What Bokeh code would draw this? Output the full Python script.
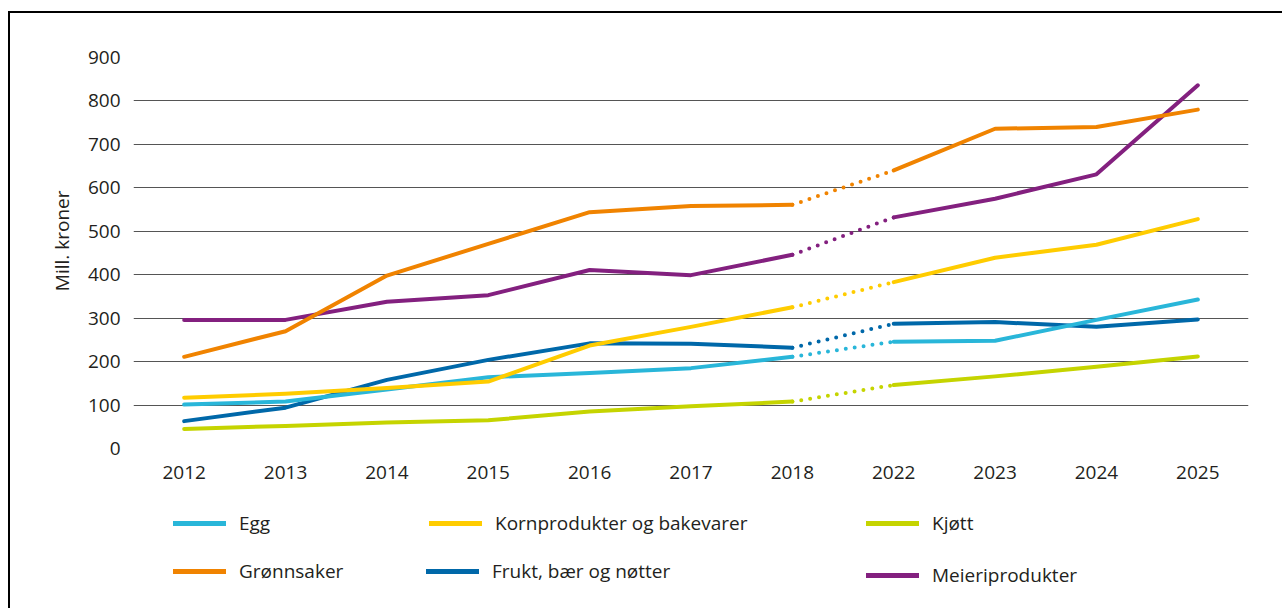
from bokeh.plotting import figure
from bokeh.layouts import column
from bokeh.models import ColumnDataSource, FactorRange, Range1d, FixedTicker, Legend, LegendItem, Title
from bokeh.embed import file_html
from bokeh.resources import INLINE

years = ["2012", "2013", "2014", "2015", "2016", "2017", "2018", "2022", "2023", "2024", "2025"]

egg = [101, 108, 136, 164, 174, 185, 211, 246, 248, 296, 343]
gronnsaker = [211, 270, 398, 471, 544, 558, 561, 640, 736, 740, 780]
korn = [117, 126, 139, 154, 237, 280, 325, 383, 439, 469, 528]
frukt = [63, 94, 158, 204, 242, 241, 232, 287, 291, 280, 297]
kjott = [45, 52, 60, 65, 85, 97, 108, 146, 166, 188, 212]
meieri = [296, 296, 338, 353, 411, 399, 446, 532, 575, 631, 836]

names = ["Egg", "Grønnsaker", "Kornprodukter og bakevarer", "Frukt, bær og nøtter", "Kjøtt", "Meieriprodukter"]
series = [egg, gronnsaker, korn, frukt, kjott, meieri]
colors = ["#29b6d9", "#f08300", "#ffcc00", "#0068a9", "#c5d400", "#83207f"]
y_title = "Mill. kroner"

FONT = "Open Sans"
TXT = "#231f20"

p = figure(x_range=FactorRange(factors=years), y_range=Range1d(0, 900),
           width=1272, height=487, frame_width=1115, frame_height=391,
           min_border_left=123, min_border_right=34, min_border_top=44, min_border_bottom=52,
           output_backend="svg", toolbar_location=None, tools="")
p.outline_line_color = None
p.background_fill_color = "white"
p.border_fill_color = "white"

p.xgrid.grid_line_color = None
p.ygrid.grid_line_color = "#555555"
p.ygrid.grid_line_width = 1
p.yaxis.ticker = FixedTicker(ticks=[0, 100, 200, 300, 400, 500, 600, 700, 800, 900])

for ax in (p.xaxis[0], p.yaxis[0]):
    ax.axis_line_color = None
    ax.major_tick_line_color = None
    ax.minor_tick_line_color = None
    ax.major_tick_in = 0
    ax.major_tick_out = 0
    ax.major_label_text_font = FONT
    ax.major_label_text_font_size = "19px"
    ax.major_label_text_color = TXT
p.yaxis.major_label_standoff = 13
p.xaxis.major_label_standoff = 17

# y-axis title, placed slightly above the frame's middle as in the original
yt = Title(text=y_title, align="right", offset=133, standoff=20,
           text_font=FONT, text_font_size="19px", text_font_style="normal", text_color=TXT)
p.add_layout(yt, "left")

draw_order = [4, 3, 0, 2, 5, 1]
for i in draw_order:
    vals = series[i]
    c = colors[i]
    s1 = ColumnDataSource(dict(x=years[:7], y=vals[:7]))
    s2 = ColumnDataSource(dict(x=years[6:8], y=vals[6:8]))
    s3 = ColumnDataSource(dict(x=years[7:], y=vals[7:]))
    p.line("x", "y", source=s1, line_color=c, line_width=4, line_cap="round", line_join="round")
    p.line("x", "y", source=s2, line_color=c, line_width=4, line_cap="round", line_dash="0 9")
    p.line("x", "y", source=s3, line_color=c, line_width=4, line_cap="round", line_join="round")

# legend panel: a second figure whose series lie outside its view, used only for the key
lp = figure(x_range=FactorRange(factors=years), y_range=Range1d(5000, 6000),
            width=1272, height=108, frame_width=1272, frame_height=108,
            min_border_left=0, min_border_right=0, min_border_top=0, min_border_bottom=0,
            output_backend="svg", toolbar_location=None, tools="")
lp.axis.visible = False
lp.grid.visible = False
lp.outline_line_color = None
lp.background_fill_color = "white"
lp.border_fill_color = "white"

leg_pos = {0: (163, 72), 2: (419, 72), 4: (856, 72),
           1: (163, 24), 3: (416, 24), 5: (856, 20)}
for i in range(6):
    r = lp.line(x=years, y=series[i], line_color=colors[i], line_width=5, line_cap="round")
    lg = Legend(items=[LegendItem(label=names[i], renderers=[r])],
                location=leg_pos[i], orientation="vertical",
                glyph_width=53, glyph_height=26, label_height=26, label_standoff=13,
                padding=0, margin=0, spacing=0,
                border_line_color=None, background_fill_alpha=0,
                label_text_font=FONT, label_text_font_size="19px", label_text_color=TXT,
                label_text_baseline="middle")
    lp.add_layout(lg, "center")

layout = column(p, lp, spacing=0)
layout.styles = {"border-left": "2px solid #000000", "border-top": "2px solid #000000",
                 "margin-left": "8px", "margin-top": "11px"}

open("out.html", "w").write(file_html(layout, INLINE))
